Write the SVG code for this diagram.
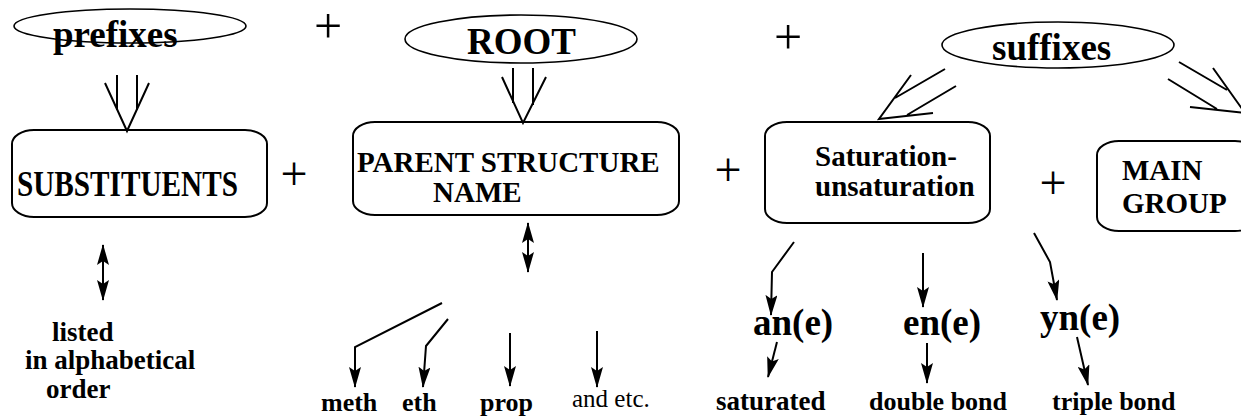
<svg xmlns="http://www.w3.org/2000/svg" width="1241" height="416" viewBox="0 0 1241 416">
  <style>
    .bg { fill: #ffffff; }
    .shape { fill: none; stroke: #000; stroke-width: 2; }
    .oval { fill: none; stroke: #000; stroke-width: 1.6; }
    .wire { fill: none; stroke: #000; stroke-width: 2; stroke-linejoin: miter; }
    .b { font-family: "Liberation Serif", "Times New Roman", serif; font-weight: bold; fill: #000; }
    .r { font-family: "Liberation Serif", "Times New Roman", serif; font-weight: normal; fill: #000; }
    .plus { font-family: "Liberation Serif", "Times New Roman", serif; fill: #000; text-anchor: middle; }
  </style>
  <defs>
    <marker id="head" markerUnits="userSpaceOnUse" markerWidth="22" markerHeight="12" refX="20" refY="6" orient="auto-start-reverse" viewBox="0 0 22 12">
      <path d="M0,0 L21,6 L0,12 L4,6 z" fill="#000"/>
    </marker>
  </defs>

  <rect class="bg" x="0" y="0" width="1241" height="416"/>

  <!-- top row: name-part ovals -->
  <g id="prefixes">
    <ellipse class="oval" cx="130" cy="26" rx="116" ry="17"/>
    <text class="b" x="53" y="47" font-size="37">prefixes</text>
  </g>
  <g id="root">
    <ellipse class="oval" cx="521" cy="39" rx="116" ry="24"/>
    <text class="b" x="467" y="54" font-size="37">ROOT</text>
  </g>
  <g id="suffixes">
    <ellipse class="oval" cx="1058" cy="45" rx="116" ry="23"/>
    <text class="b" x="992" y="60" font-size="37">suffixes</text>
  </g>

  <!-- middle row: components of the name -->
  <g id="substituents">
    <rect class="shape" x="12" y="130" width="255" height="87" rx="22" ry="14"/>
    <text class="b" font-size="36" transform="translate(17 196) scale(0.812 1)">SUBSTITUENTS</text>
  </g>
  <g id="parent-structure">
    <rect class="shape" x="353" y="122" width="326" height="93" rx="22" ry="14"/>
    <text class="b" x="357" y="172" font-size="29">PARENT STRUCTURE</text>
    <text class="b" x="433" y="202" font-size="29">NAME</text>
  </g>
  <g id="saturation">
    <rect class="shape" x="765" y="122" width="225" height="101" rx="22" ry="14"/>
    <text class="b" x="815" y="166" font-size="29">Saturation-</text>
    <text class="b" x="815" y="196" font-size="29">unsaturation</text>
  </g>
  <g id="main-group">
    <rect class="shape" x="1097" y="141" width="160" height="90" rx="22" ry="14"/>
    <text class="b" x="1122" y="180" font-size="29">MAIN</text>
    <text class="b" x="1122" y="213" font-size="29">GROUP</text>
  </g>

  <!-- plus signs joining the parts -->
  <g id="plus-signs">
    <text class="plus" x="328" y="43" font-size="50">+</text>
    <text class="plus" x="788" y="54" font-size="50">+</text>
    <text class="plus" x="294" y="190" font-size="48">+</text>
    <text class="plus" x="728" y="186" font-size="48">+</text>
    <text class="plus" x="1053" y="199" font-size="48">+</text>
  </g>

  <!-- bottom row: examples and meanings -->
  <g id="alphabetical">
    <text class="b" x="52" y="341" font-size="27">listed</text>
    <text class="b" x="25" y="369" font-size="27">in alphabetical</text>
    <text class="b" x="46" y="398" font-size="27">order</text>
  </g>
  <g id="meth"><text class="b" x="321" y="411" font-size="26">meth</text></g>
  <g id="eth"><text class="b" x="402" y="411" font-size="26">eth</text></g>
  <g id="prop"><text class="b" x="480" y="411" font-size="26">prop</text></g>
  <g id="and-etc"><text class="r" x="572" y="407" font-size="25">and etc.</text></g>
  <g id="ane"><text class="b" x="753" y="335" font-size="37">an(e)</text></g>
  <g id="ene"><text class="b" x="903" y="335" font-size="37">en(e)</text></g>
  <g id="yne"><text class="b" x="1040" y="330" font-size="37">yn(e)</text></g>
  <g id="saturated"><text class="b" x="716" y="410" font-size="27">saturated</text></g>
  <g id="double-bond"><text class="b" x="869" y="410" font-size="26">double bond</text></g>
  <g id="triple-bond"><text class="b" x="1052" y="410" font-size="26">triple bond</text></g>

  <!-- connectors -->
  <g id="connectors">
    <!-- open double arrows from the ovals -->
    <path class="wire" d="M117,75 V110 M137,75 V110 M105,83 L127,131 L149,83"/>
    <path class="wire" d="M513,68 V103 M533,68 V105 M502,77 L523,123 L546,77"/>
    <path class="wire" d="M945,69 L895,98 M956,86 L907,115 M911,75 L879,119 L933,113"/>
    <path class="wire" d="M1179,62 L1227,90 M1168,79 L1217,109 M1213,68 L1245,113 L1190,107"/>

    <!-- two-way arrows -->
    <line class="wire" x1="103" y1="245" x2="103" y2="300" marker-start="url(#head)" marker-end="url(#head)"/>
    <line class="wire" x1="528" y1="223" x2="528" y2="272" marker-start="url(#head)" marker-end="url(#head)"/>

    <!-- root examples -->
    <polyline class="wire" points="442,303 355,347 355,387" marker-end="url(#head)"/>
    <polyline class="wire" points="448,319 426,346 423,387" marker-end="url(#head)"/>
    <line class="wire" x1="510" y1="333" x2="510" y2="386" marker-end="url(#head)"/>
    <line class="wire" x1="597" y1="331" x2="597" y2="387" marker-end="url(#head)"/>

    <!-- suffix endings -->
    <polyline class="wire" points="794,242 772,272 771,315" marker-end="url(#head)"/>
    <line class="wire" x1="777" y1="342" x2="768" y2="377" marker-end="url(#head)"/>
    <line class="wire" x1="923" y1="253" x2="923" y2="307" marker-end="url(#head)"/>
    <line class="wire" x1="927" y1="343" x2="927" y2="383" marker-end="url(#head)"/>
    <polyline class="wire" points="1034,233 1050,262 1057,300" marker-end="url(#head)"/>
    <line class="wire" x1="1077" y1="337" x2="1088" y2="385" marker-end="url(#head)"/>
  </g>
</svg>
